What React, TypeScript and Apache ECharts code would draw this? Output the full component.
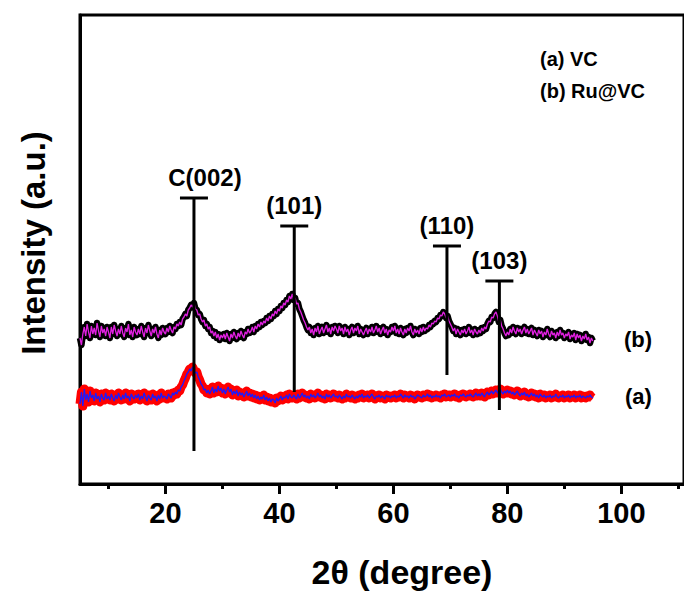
import React, { useEffect, useRef } from "react";
import * as echarts from "echarts";

// 2θ grid of the measured patterns (degrees)
const angleStart = 5;
const angleStep = 0.25;

// (a) VC pattern, arbitrary intensity units
const vcValues = [
  80, 92, 78, 95, 84, 90, 82, 93, 86, 89,
  83, 91, 85, 88, 82, 90, 86, 84, 91, 85,
  88, 84, 90, 86, 83, 89, 85, 91, 87, 84,
  89, 85, 91, 86, 88, 83, 90, 87, 85, 89,
  86, 90, 84, 88, 85, 91, 87, 83, 89, 86,
  84, 90, 86, 88, 83, 89, 85, 91, 86, 88,
  87, 85, 90, 88, 86, 91, 89, 92, 90, 94,
  93, 97, 99, 103, 106, 110, 112, 115, 113, 117,
  114, 111, 112, 107, 104, 100, 98, 94, 95, 91,
  94, 90, 93, 97, 91, 95, 92, 98, 93, 96,
  91, 95, 90, 94, 97, 92, 95, 89, 93, 90,
  94, 88, 92, 89, 91, 87, 90, 93, 88, 91,
  87, 90, 86, 89, 85, 88, 84, 87, 85, 89,
  84, 87, 83, 86, 82, 85, 84, 81, 86, 83,
  85, 88, 84, 87, 86, 89, 85, 90, 87, 86,
  89, 87, 85, 90, 86, 88, 91, 87, 89, 86,
  88, 85, 90, 87, 89, 86, 88, 91, 87, 89,
  86, 88, 85, 90, 87, 89, 86, 88, 90, 87,
  88, 86, 89, 87, 85, 88, 86, 90, 87, 88,
  86, 89, 87, 85, 88, 86, 89, 87, 90, 86,
  88, 87, 89, 86, 88, 90, 87, 85, 88, 87,
  89, 86, 88, 87, 85, 89, 87, 88, 86, 88,
  87, 89, 86, 88, 87, 90, 88, 86, 89, 87,
  88, 86, 89, 87, 88, 85, 87, 89, 88, 87,
  86, 89, 87, 88, 90, 87, 89, 86, 88, 87,
  89, 87, 88, 86, 89, 88, 90, 87, 88, 89,
  87, 89, 88, 90, 87, 88, 86, 89, 88, 90,
  88, 87, 89, 88, 90, 88, 87, 89, 91, 88,
  90, 88, 91, 89, 87, 90, 92, 89, 91, 93,
  90, 92, 94, 91, 93, 95, 92, 90, 93, 91,
  94, 91, 93, 90, 92, 89, 91, 93, 90, 88,
  91, 89, 92, 88, 90, 87, 89, 91, 88, 90,
  87, 89, 86, 90, 88, 87, 89, 86, 88, 87,
  89, 86, 88, 87, 90, 87, 86, 88, 87, 89,
  86, 88, 87, 89, 86, 88, 87, 89, 86, 88,
  87, 89, 86, 88, 87, 86, 88, 87, 89, 87,
  86,
];

// (b) Ru@VC pattern, arbitrary intensity units (offset)
const ruVcValues = [
  146, 139, 150, 157, 148, 160, 152, 146, 158, 150,
  156, 149, 161, 153, 147, 158, 151, 155, 148, 157,
  152, 146, 157, 150, 159, 153, 148, 155, 150, 158,
  151, 147, 156, 152, 160, 149, 154, 147, 157, 152,
  149, 155, 150, 158, 152, 147, 156, 151, 159, 153,
  148, 155, 151, 157, 150, 146, 154, 149, 156, 152,
  150, 156, 152, 158, 154, 151, 157, 155, 160, 158,
  162, 159, 165, 167, 170, 168, 174, 176, 179, 177,
  181, 175, 174, 169, 170, 165, 162, 164, 158, 160,
  155, 157, 151, 153, 148, 152, 146, 150, 144, 149,
  146, 150, 145, 151, 147, 143, 150, 146, 152, 148,
  145, 151, 147, 153, 149, 146, 152, 150, 155, 151,
  153, 157, 152, 158, 155, 160, 157, 162, 159, 163,
  161, 166, 163, 168, 165, 170, 168, 173, 170, 175,
  173, 178, 176, 181, 179, 184, 182, 188, 185, 190,
  184, 186, 180, 181, 175, 172, 168, 164, 161, 157,
  154, 157, 151, 155, 149, 156, 152, 158, 150, 154,
  157, 151, 155, 159, 152, 156, 150, 157, 153, 158,
  155, 151, 158, 153, 156, 150, 157, 152, 155, 149,
  154, 157, 151, 156, 153, 158, 150, 155, 152, 149,
  153, 156, 150, 155, 152, 157, 151, 154, 158, 152,
  156, 150, 154, 157, 151, 155, 149, 154, 152, 157,
  153, 158, 151, 155, 150, 156, 152, 149, 155, 151,
  156, 153, 158, 152, 149, 155, 151, 154, 150, 156,
  152, 157, 153, 156, 155, 159, 157, 161, 160, 163,
  162, 166, 165, 169, 168, 172, 170, 166, 168, 163,
  160, 157, 153, 156, 150, 155, 152, 149, 154, 151,
  155, 150, 153, 157, 151, 154, 149, 155, 152, 150,
  154, 151, 156, 153, 157, 155, 160, 163, 162, 167,
  166, 170, 172, 168, 162, 164, 158, 155, 151, 148,
  152, 149, 155, 151, 157, 153, 150, 156, 152, 155,
  150, 154, 157, 151, 155, 150, 153, 156, 149, 154,
  151, 148, 154, 150, 153, 147, 152, 149, 155, 150,
  147, 153, 149, 151, 146, 152, 148, 154, 149, 151,
  146, 150, 148, 152, 145, 149, 147, 151, 144, 150,
  146, 149, 143, 148, 145, 150, 144, 147, 141, 146,
  143,
];

// reference reflections: label, 2θ, top, bottom
const peakLabels = ["C(002)", "(101)", "(110)", "(103)"];
const peakAngles = [25, 42.6, 69.4, 78.6];
const peakTops = [286, 258, 238, 203];
const peakBottoms = [33, 92, 109, 74];

const xLabelValues = [20, 40, 60, 80, 100];
const xMinorValues = [10, 30, 50, 70, 90, 110];

const FONT = '"Liberation Sans", Arial, sans-serif';

export default function App() {
  const ref = useRef<HTMLDivElement>(null);

  useEffect(() => {
    if (!ref.current) return;
    const chart = echarts.init(ref.current, null, { renderer: "svg" });

    const toPairs = (vals: number[]) =>
      vals.map((v, i) => [angleStart + i * angleStep, v]);
    const vcData = toPairs(vcValues);
    const ruData = toPairs(ruVcValues);
    const stickData = peakAngles.map((a, i) => [a, peakTops[i], peakBottoms[i], i]);

    chart.setOption({
      animation: false,
      backgroundColor: "#fff",
      grid: { left: 80, top: 15, width: 612, height: 469, show: true, borderColor: "#000", borderWidth: 3 },
      xAxis: [
        {
          type: "value",
          min: 5,
          max: 111,
          axisLine: { show: true, lineStyle: { color: "#000", width: 3 } },
          axisTick: { show: true, customValues: xLabelValues, length: 10, lineStyle: { color: "#000", width: 3 } },
          axisLabel: {
            show: true,
            customValues: xLabelValues,
            margin: 14,
            color: "#000",
            fontFamily: FONT,
            fontWeight: "bold",
            fontSize: 29,
          },
          splitLine: { show: false },
        },
        {
          type: "value",
          min: 5,
          max: 111,
          position: "bottom",
          axisLine: { show: false },
          axisTick: { show: true, customValues: xMinorValues, length: 5, lineStyle: { color: "#000", width: 3 } },
          axisLabel: { show: false },
          splitLine: { show: false },
        },
      ],
      yAxis: {
        type: "value",
        min: 0,
        max: 469,
        axisLine: { show: true, lineStyle: { color: "#000", width: 3 } },
        axisTick: { show: false },
        axisLabel: { show: false },
        splitLine: { show: false },
      },
      series: [
        {
          type: "line",
          name: "(a) VC",
          data: vcData,
          showSymbol: false,
          lineStyle: { color: "#ff0000", width: 9, join: "round" },
          z: 2,
        },
        {
          type: "line",
          name: "(a) VC inner",
          data: vcData,
          showSymbol: false,
          lineStyle: { color: "#1a1aff", width: 1.3 },
          z: 3,
        },
        {
          type: "line",
          name: "(b) Ru@VC",
          data: ruData,
          showSymbol: false,
          lineStyle: { color: "#000000", width: 6.5, join: "round" },
          z: 2,
        },
        {
          type: "line",
          name: "(b) Ru@VC inner",
          data: ruData,
          showSymbol: false,
          lineStyle: { color: "#e020e0", width: 1.3 },
          z: 3,
        },
        {
          type: "custom",
          name: "reflections",
          data: stickData,
          encode: { x: 0, y: [1, 2] },
          z: 5,
          renderItem: (params: any, api: any) => {
            const x = api.value(0);
            const top = api.coord([x, api.value(1)]);
            const bot = api.coord([x, api.value(2)]);
            const idx = api.value(3);
            const label = peakLabels[idx];
            const dx = label.startsWith("C") ? 11 : 0;
            return {
              type: "group",
              children: [
                {
                  type: "line",
                  shape: { x1: top[0], y1: top[1], x2: bot[0], y2: bot[1] },
                  style: { stroke: "#000", lineWidth: 3 },
                },
                {
                  type: "line",
                  shape: { x1: top[0] - 14, y1: top[1], x2: top[0] + 14, y2: top[1] },
                  style: { stroke: "#000", lineWidth: 3 },
                },
                {
                  type: "text",
                  x: top[0] + dx,
                  y: top[1] - 9,
                  style: {
                    text: label,
                    font: `bold 24px ${FONT}`,
                    textAlign: "center",
                    textVerticalAlign: "bottom",
                    fill: "#000",
                  },
                },
              ],
            };
          },
        },
      ],
      graphic: [
        {
          type: "text",
          left: 540,
          top: 49,
          style: { text: "(a) VC", font: `bold 20px ${FONT}`, fill: "#000" },
        },
        {
          type: "text",
          left: 540,
          top: 81,
          style: { text: "(b) Ru@VC", font: `bold 20px ${FONT}`, fill: "#000" },
        },
        {
          type: "text",
          x: 624,
          y: 339,
          style: { text: "(b)", font: `bold 22px ${FONT}`, fill: "#000", textVerticalAlign: "middle" },
        },
        {
          type: "text",
          x: 625,
          y: 396,
          style: { text: "(a)", font: `bold 22px ${FONT}`, fill: "#000", textVerticalAlign: "middle" },
        },
        {
          type: "text",
          x: 33,
          y: 243,
          rotation: Math.PI / 2,
          style: {
            text: "Intensity (a.u.)",
            font: `bold 33px ${FONT}`,
            fill: "#000",
            textAlign: "center",
            textVerticalAlign: "middle",
          },
        },
        {
          type: "text",
          x: 402,
          y: 572,
          style: {
            text: "2θ (degree)",
            font: `bold 34px ${FONT}`,
            fill: "#000",
            textAlign: "center",
            textVerticalAlign: "middle",
          },
        },
      ],
    });

    return () => chart.dispose();
  }, []);

  return (
    <div
      ref={ref}
      style={{ position: "fixed", left: 0, top: 0, width: 684, height: 593, background: "#fff" }}
    />
  );
}
